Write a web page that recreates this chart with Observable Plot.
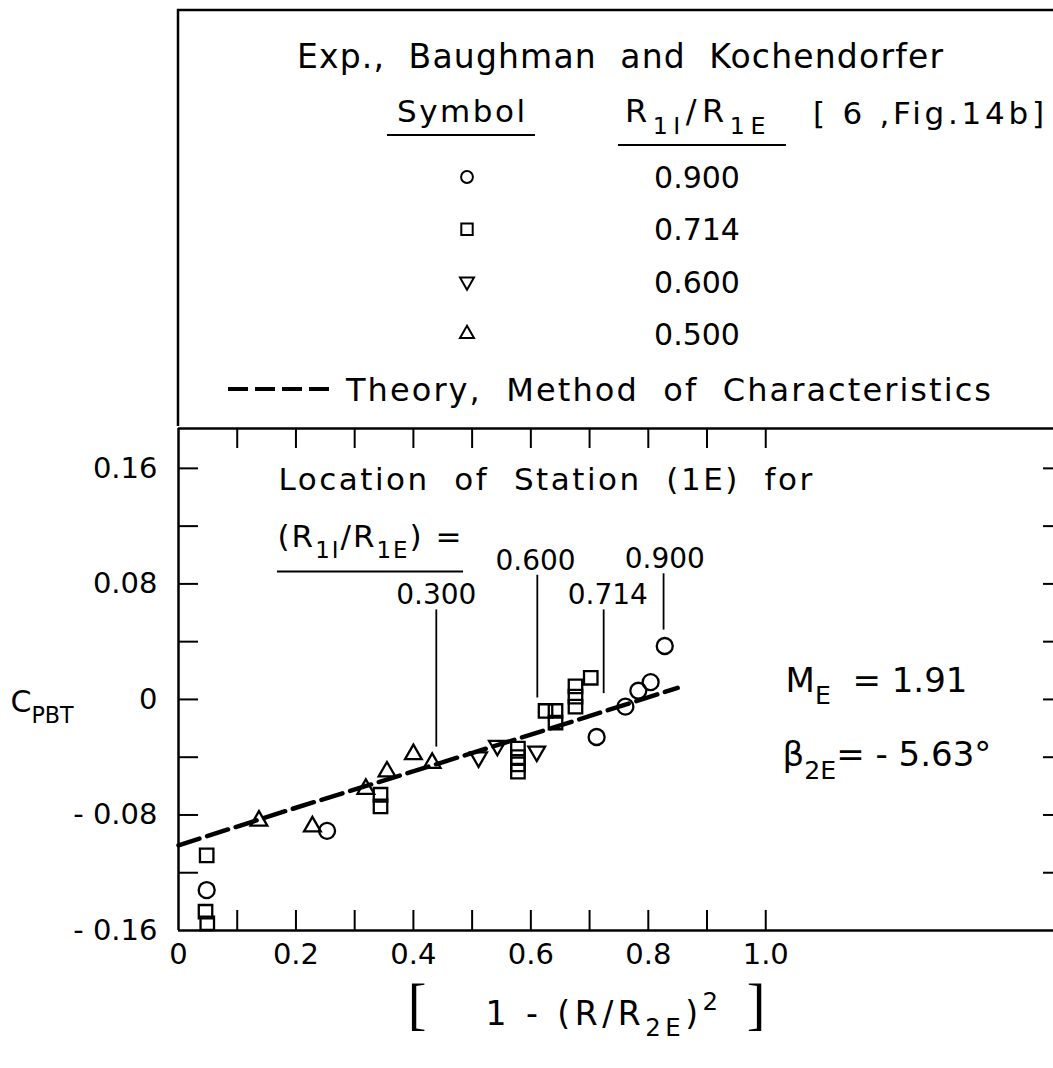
<!DOCTYPE html>
<html>
<head>
<meta charset="utf-8">
<script src="https://cdn.jsdelivr.net/npm/d3@7"></script>
<script src="https://cdn.jsdelivr.net/npm/@observablehq/plot@0.6"></script>
<style>
  html, body { margin: 0; padding: 0; background: #fff; }
  #figure { width: 1053px; }
  #figure svg { display: block; }
  #figure text, #figure tspan { white-space: pre; }
</style>
</head>
<body>
<div id="figure"></div>
<script>
// Measured base pressure coefficient C_PBT against 1 - (R/R2E)^2,
// one pair of arrays per inner/outer radius ratio R1I/R1E.
const circleX = [0.048, 0.253, 0.712, 0.761, 0.783, 0.804, 0.828];          // 0.900
const circleY = [-0.132, -0.091, -0.026, -0.005, 0.006, 0.012, 0.037];
const squareX = [0.048, 0.046, 0.049, 0.344, 0.344, 0.578, 0.578, 0.578, 0.578,
                 0.625, 0.642, 0.642, 0.676, 0.676, 0.676, 0.702];           // 0.714
const squareY = [-0.108, -0.147, -0.155, -0.066, -0.074, -0.034, -0.040, -0.045, -0.050,
                 -0.008, -0.008, -0.016, 0.009, 0.002, -0.005, 0.015];
const triDownX = [0.511, 0.543, 0.610];                                      // 0.600
const triDownY = [-0.040, -0.032, -0.036];
const triUpX = [0.137, 0.228, 0.319, 0.355, 0.400, 0.432];                   // 0.500
const triUpY = [-0.084, -0.088, -0.062, -0.050, -0.038, -0.044];

// Method-of-characteristics prediction
const theoryX = [0, 0.2, 0.43, 0.65, 0.85];
const theoryY = [-0.101, -0.075, -0.046, -0.018, 0.008];

// Legend rows
const legendRatios = ["0.900", "0.714", "0.600", "0.500"];

// Station (1E) locations for each radius ratio
const stationLabels = ["0.300", "0.600", "0.714", "0.900"];
const stationX = [0.439, 0.611, 0.724, 0.826];
const stationLow = [-0.033, 0.001, 0.004, 0.048];
const stationHigh = [0.062, 0.086, 0.062, 0.087];
const stationLabelX = [0.439, 0.608, 0.731, 0.828];
const stationLabelY = [0.072, 0.096, 0.072, 0.097];

// Axes
const xTickValues = [0, 0.2, 0.4, 0.6, 0.8, 1.0];
const xTickLabels = ["0", "0.2", "0.4", "0.6", "0.8", "1.0"];
const yTickValues = [-0.16, -0.08, 0, 0.08, 0.16];
const yTickLabels = ["- 0.16", "- 0.08", "0", "0.08", "0.16"];
const xMinorTicks = [0.1, 0.2, 0.3, 0.4, 0.5, 0.6, 0.7, 0.8, 0.9, 1.0];
const yMinorTicks = [-0.12, -0.08, -0.04, 0, 0.04, 0.08, 0.12, 0.16];
const xDomain = [0, 1.49];
const yDomain = [-0.16, 0.1876];

const FONT = "DejaVu Sans, Verdana, sans-serif";
const SERIF = "Liberation Serif, DejaVu Serif, serif";
const INK = "#000";

// Text strings drawn on the chart
const headingText = "Location  of  Station  (1E)  for";
const ratioText = "(R_{1I}/R_{1E}) =";
const machText = "M_{E}  = 1.91";
const angleText = "β_{2E}= - 5.63°";
const yTitle = "C_{PBT}";
const xTitle = "1 - (R/R_{2E})^{2}";

// Downward-pointing triangle, same proportions as d3.symbolTriangle
const triangleDown = {
  draw(context, size) {
    const s3 = Math.sqrt(3);
    const y = -Math.sqrt(size / (s3 * 3));
    context.moveTo(0, -y * 2);
    context.lineTo(-s3 * y, y);
    context.lineTo(s3 * y, y);
    context.closePath();
  }
};

const seriesSymbols = [d3.symbolCircle, d3.symbolSquare, triangleDown, d3.symbolTriangle];

// ---------- Legend box ----------
const legend = d3.create("svg")
  .attr("width", 1053).attr("height", 426)
  .attr("font-family", FONT)
  .style("background", "#fff");

legend.append("path")
  .attr("d", "M178,440V10H1060")
  .attr("fill", "none").attr("stroke", INK).attr("stroke-width", 2.5);

function legendText(str, x, y, size, anchor, extra = {}) {
  const t = legend.append("text")
    .attr("x", x).attr("y", y)
    .attr("font-size", size)
    .attr("text-anchor", anchor)
    .attr("fill", INK)
    .text(str);
  for (const [k, v] of Object.entries(extra)) t.attr(k, v);
  return t;
}

legendText("Exp.,  Baughman  and  Kochendorfer", 620, 68, 33, "middle",
  {textLength: 646, lengthAdjust: "spacing"});
legendText("Symbol", 461, 122, 31, "middle", {textLength: 128, lengthAdjust: "spacing"});
legendText("R_{1I}/R_{1E}", 625, 122, 32, "start", {"letter-spacing": "5.5px"});
legendText("[ 6 ,Fig.14b]", 813, 124, 31, "start", {textLength: 231, lengthAdjust: "spacing"});
legend.append("path").attr("d", "M387,135H535M618,145H786")
  .attr("stroke", INK).attr("stroke-width", 2);

legendRatios.forEach((r, i) => {
  const base = 188 + i * 52.3;
  legend.append("path")
    .attr("transform", `translate(467,${base - 11})`)
    .attr("d", d3.symbol(seriesSymbols[i], i === 0 ? 110 : i === 1 ? 130 : 85)())
    .attr("fill", "none").attr("stroke", INK).attr("stroke-width", 2);
  legendText(r, 697, base, 30, "middle");
});

legend.append("line")
  .attr("x1", 228).attr("x2", 329).attr("y1", 389).attr("y2", 389)
  .attr("stroke", INK).attr("stroke-width", 4).attr("stroke-dasharray", "20 7");
legendText("Theory,  Method  of  Characteristics", 346, 401, 32, "start",
  {textLength: 645, lengthAdjust: "spacing"});

// ---------- Chart ----------
const points = [
  ...circleX.map((x, i) => ({x, y: circleY[i], ratio: "0.900"})),
  ...squareX.map((x, i) => ({x, y: squareY[i], ratio: "0.714"})),
  ...triDownX.map((x, i) => ({x, y: triDownY[i], ratio: "0.600"})),
  ...triUpX.map((x, i) => ({x, y: triUpY[i], ratio: "0.500"}))
];
const theory = theoryX.map((x, i) => ({x, y: theoryY[i]}));
const stations = stationLabels.map((label, i) => ({
  label, x: stationX[i], y1: stationLow[i], y2: stationHigh[i],
  lx: stationLabelX[i], ly: stationLabelY[i]
}));

const frameW = 1053 - 178;
const frameH = 640 - 2 - 136;

const dotStyle = {x: "x", y: "y", fill: "none", stroke: INK, strokeWidth: 2.3};

const chart = Plot.plot({
  width: 1053,
  height: 640,
  marginLeft: 178,
  marginRight: 0,
  marginTop: 2,
  marginBottom: 136,
  style: {fontFamily: FONT, fontSize: "29px", color: INK, background: "#fff", overflow: "visible"},
  x: {
    domain: xDomain, ticks: xTickValues, label: null,
    tickFormat: d => xTickLabels[xTickValues.indexOf(d)],
    tickSize: 0, tickPadding: 13
  },
  y: {
    domain: yDomain, ticks: yTickValues, label: null,
    tickFormat: d => yTickLabels[yTickValues.indexOf(d)],
    tickSize: 0, tickPadding: 21
  },
  marks: [
    // frame: left, top and bottom edges with inward ticks
    Plot.ruleX([0], {stroke: INK, strokeWidth: 2.5}),
    Plot.ruleY([yDomain[0], yDomain[1]], {stroke: INK, strokeWidth: 2.5}),
    Plot.tickX(xMinorTicks, {x: d => d, insetTop: frameH - 20, stroke: INK, strokeWidth: 2}),
    Plot.tickX(xMinorTicks, {x: d => d, insetBottom: frameH - 20, stroke: INK, strokeWidth: 2}),
    Plot.tickY(yMinorTicks, {y: d => d, insetRight: frameW - 20, stroke: INK, strokeWidth: 2}),
    Plot.tickY(yMinorTicks, {y: d => d, insetLeft: frameW - 10, stroke: INK, strokeWidth: 2}),

    // theory curve
    Plot.line(theory, {x: "x", y: "y", stroke: INK, strokeWidth: 4.5, strokeDasharray: "22,8"}),

    // experiments
    Plot.dot(points, {...dotStyle, filter: d => d.ratio === "0.900", symbol: "circle", r: 8}),
    Plot.dot(points, {...dotStyle, filter: d => d.ratio === "0.714", symbol: "square", r: 7.6}),
    Plot.dot(points, {...dotStyle, filter: d => d.ratio === "0.600", symbol: triangleDown, r: 6.2}),
    Plot.dot(points, {...dotStyle, filter: d => d.ratio === "0.500", symbol: "triangle", r: 6.2}),

    // station (1E) leaders and labels
    Plot.ruleX(stations, {x: "x", y1: "y1", y2: "y2", stroke: INK, strokeWidth: 1.8}),
    Plot.text(stations, {x: "lx", y: "ly", text: "label", fontSize: 28, fill: INK}),
    Plot.text([headingText], {
      x: () => 0.1703, y: () => 0.1519, textAnchor: "start", fontSize: 31, fill: INK
    }),
    Plot.text([ratioText], {
      x: () => 0.1686, y: () => 0.1124, textAnchor: "start", fontSize: 31, fill: INK
    }),
    Plot.ruleY([0.0886], {x1: 0.1686, x2: 0.4854, stroke: INK, strokeWidth: 2}),

    // flow conditions
    Plot.text([machText], {
      x: () => 1.0337, y: () => 0.0127, textAnchor: "start", fontSize: 34, fill: INK
    }),
    Plot.text([angleText], {
      x: () => 1.0286, y: () => -0.0389, textAnchor: "start", fontSize: 34, fill: INK
    }),

    // axis titles
    Plot.text([yTitle], {
      y: () => 0, frameAnchor: "left", textAnchor: "start", dx: -168, dy: 3, fontSize: 30, fill: INK
    }),
    Plot.text([xTitle], {
      frameAnchor: "bottom", dx: -12, dy: 94, fontSize: 33, fill: INK
    }),
    Plot.text(["["], {
      frameAnchor: "bottom", dx: -199, dy: 92, fontSize: 56, fontFamily: SERIF, fill: INK
    }),
    Plot.text(["]"], {
      frameAnchor: "bottom", dx: 140, dy: 92, fontSize: 56, fontFamily: SERIF, fill: INK
    })
  ]
});

const figure = document.getElementById("figure");
figure.appendChild(legend.node());
figure.appendChild(chart);

// Letter spacing for the wide-set lettering
const spacing = new Map([
  [headingText, "2.5px"],
  [ratioText, "2px"],
  [xTitle, "4.5px"]
]);
d3.select(chart).selectAll("text").each(function () {
  const s = spacing.get(this.textContent);
  if (s) this.style.letterSpacing = s;
});

// Turn _{...} and ^{...} into lowered / raised tspans
function richText(root) {
  const NS = "http://www.w3.org/2000/svg";
  root.querySelectorAll("text").forEach(node => {
    const raw = node.textContent;
    if (!/[_^]\{/.test(raw)) return;
    const size = parseFloat(getComputedStyle(node).fontSize);
    node.textContent = "";
    let shift = 0;
    for (const m of raw.matchAll(/([_^])\{([^}]*)\}|([^_^]+)/g)) {
      const span = document.createElementNS(NS, "tspan");
      const target = m[1] === "_" ? 0.36 * size : m[1] === "^" ? -0.45 * size : 0;
      if (m[1]) span.setAttribute("font-size", (0.74 * size).toFixed(1));
      if (target !== shift) span.setAttribute("dy", (target - shift).toFixed(1));
      shift = target;
      span.textContent = m[1] ? m[2] : m[3];
      node.appendChild(span);
    }
  });
}
richText(figure);
</script>
</body>
</html>
